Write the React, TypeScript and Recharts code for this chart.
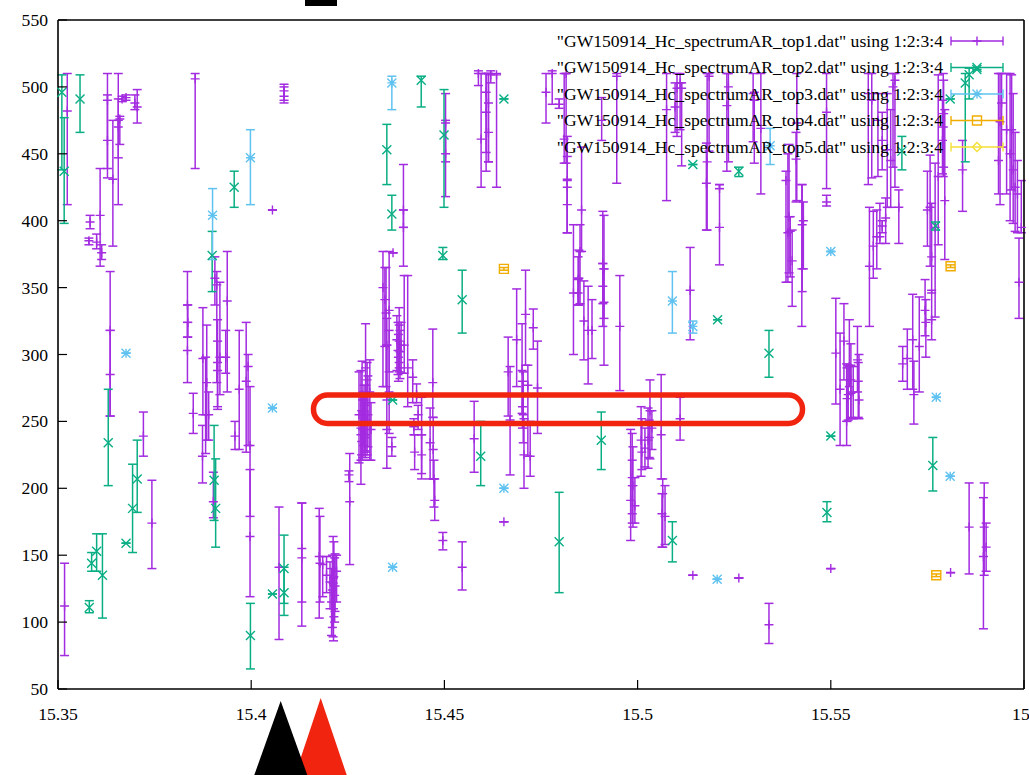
import { ScatterChart, Scatter, XAxis, YAxis, ErrorBar } from 'recharts'

// rows are [frequency, value, low, high]
const top1 = [
  [15.3517, 112, 75, 144], [15.3524, 482, 412, 510], [15.3583, 399, 394, 404], [15.358, 385, 382, 387],
  [15.36, 384, 379, 390], [15.3609, 404, 366, 439], [15.3613, 376, 371, 382], [15.3628, 490, 432, 510],
  [15.3628, 460, 439, 494], [15.3642, 431, 381, 475], [15.3656, 475, 412, 510], [15.3656, 470, 447, 491],
  [15.366, 476, 457, 478], [15.3676, 492, 490, 494], [15.3666, 491, 489, 493], [15.3699, 488, 483, 494],
  [15.3705, 485, 473, 498], [15.3635, 318, 254, 362], [15.3635, 285, 254, 318], [15.3721, 239, 224, 257],
  [15.3743, 174, 140, 206], [15.3835, 337, 313, 362], [15.3836, 324, 313, 337], [15.3835, 303, 279, 324],
  [15.385, 256, 241, 271], [15.3855, 506, 439, 510], [15.3874, 224, 204, 247], [15.3882, 255, 226, 298],
  [15.3875, 297, 255, 335], [15.3885, 279, 236, 322], [15.389, 255, 236, 272], [15.3906, 357, 337, 373],
  [15.3911, 352, 279, 362], [15.3902, 190, 178, 212], [15.3913, 294, 261, 326], [15.3913, 288, 259, 310],
  [15.3919, 298, 270, 354], [15.3934, 298, 286, 318], [15.3938, 340, 272, 377], [15.3958, 239, 229, 250],
  [15.3969, 274, 229, 318], [15.3987, 280, 227, 324], [15.3992, 291, 232, 300], [15.3997, 232, 179, 276],
  [15.3997, 164, 119, 214], [15.4055, 408, 408, 408], [15.4072, 141, 87, 186], [15.4085, 493, 488, 502],
  [15.4085, 497, 490, 500], [15.4131, 155, 97, 189], [15.4131, 148, 115, 189], [15.4176, 149, 103, 185],
  [15.4178, 144, 115, 179], [15.4185, 143, 119, 149], [15.4195, 135, 122, 149], [15.4204, 130, 110, 145],
  [15.4212, 129, 89, 164], [15.4214, 134, 104, 160], [15.421, 124, 96, 150], [15.4217, 127, 108, 151],
  [15.4221, 138, 115, 150], [15.4208, 115, 90, 140], [15.4213, 110, 86, 133], [15.4216, 120, 100, 148],
  [15.4255, 190, 143, 226], [15.4253, 210, 205, 213],
  [15.4284, 245, 203, 288], [15.4279, 255, 219, 287], [15.4287, 270, 221, 295], [15.4292, 266, 225, 277],
  [15.4297, 251, 227, 277], [15.4284, 240, 221, 270], [15.4289, 244, 223, 266], [15.4295, 247, 223, 264],
  [15.43, 281, 225, 294], [15.4307, 272, 221, 296], [15.431, 244, 221, 264], [15.4291, 258, 232, 272],
  [15.4286, 235, 225, 258], [15.4294, 238, 228, 262], [15.4302, 255, 231, 284], [15.4296, 290, 240, 323],
  [15.4341, 350, 276, 377], [15.4346, 341, 306, 365], [15.4349, 331, 276, 365], [15.4351, 307, 266, 327],
  [15.4351, 244, 215, 307], [15.4357, 333, 287, 377], [15.4357, 272, 241, 318], [15.4367, 376, 376, 376],
  [15.4364, 231, 224, 238], [15.4377, 311, 288, 329], [15.438, 303, 285, 324], [15.4383, 294, 287, 322],
  [15.4385, 302, 282, 318], [15.4388, 307, 286, 324], [15.4381, 298, 280, 315], [15.4383, 310, 290, 335],
  [15.4394, 408, 395, 442], [15.4394, 395, 366, 408], [15.4396, 307, 286, 359], [15.4405, 290, 261, 359],
  [15.4418, 283, 264, 296], [15.4428, 270, 264, 278], [15.4432, 255, 244, 262], [15.4421, 246, 240, 252],
  [15.4423, 227, 214, 240], [15.4441, 240, 211, 268], [15.4441, 225, 207, 240], [15.4463, 234, 207, 260],
  [15.447, 279, 253, 319], [15.4471, 229, 207, 253], [15.4473, 207, 186, 221], [15.4475, 191, 176, 207],
  [15.4496, 161, 154, 167], [15.4546, 141, 124, 160], [15.4577, 237, 212, 265], [15.4503, 450, 418, 475],
  [15.4503, 473, 444, 495], [15.4588, 510, 501, 512], [15.4595, 461, 425, 510], [15.4608, 496, 437, 510],
  [15.4608, 481, 451, 510], [15.4614, 488, 444, 510], [15.4614, 466, 444, 510], [15.462, 509, 503, 512],
  [15.4635, 509, 425, 510], [15.4654, 175, 175, 175], [15.4665, 287, 254, 313], [15.467, 251, 210, 291],
  [15.4687, 311, 276, 349], [15.4701, 288, 256, 323], [15.4704, 255, 234, 287], [15.4706, 225, 200, 252],
  [15.4702, 261, 245, 280], [15.471, 330, 292, 363], [15.4716, 277, 224, 292], [15.4722, 224, 209, 250],
  [15.473, 320, 304, 334], [15.4741, 275, 241, 310], [15.4763, 496, 473, 510], [15.4779, 510, 487, 512],
  [15.4797, 487, 484, 491], [15.481, 461, 443, 510], [15.4815, 510, 443, 510], [15.4818, 425, 391, 448],
  [15.4818, 412, 391, 431], [15.4818, 430, 391, 463], [15.4834, 346, 300, 397], [15.4846, 356, 337, 373],
  [15.4851, 377, 338, 397], [15.4848, 357, 337, 378], [15.4846, 346, 337, 357], [15.4855, 408, 377, 455],
  [15.4861, 325, 296, 355], [15.4872, 318, 278, 351], [15.4882, 318, 297, 341], [15.4907, 475, 460, 492],
  [15.491, 368, 338, 407], [15.4913, 364, 327, 404], [15.491, 351, 321, 368], [15.4913, 339, 292, 364],
  [15.4946, 508, 428, 510], [15.4954, 321, 273, 359], [15.4982, 191, 161, 244], [15.4986, 202, 174, 241],
  [15.4988, 202, 171, 231], [15.4986, 208, 181, 221], [15.4993, 187, 174, 208], [15.5009, 236, 209, 261],
  [15.5011, 227, 214, 252], [15.5019, 230, 216, 245], [15.5027, 236, 215, 260], [15.5032, 258, 222, 281],
  [15.5037, 245, 229, 258], [15.503, 238, 223, 251], [15.5061, 240, 207, 285], [15.5065, 196, 156, 207],
  [15.5071, 179, 158, 202], [15.5063, 181, 156, 196], [15.5075, 483, 415, 510], [15.5097, 485, 466, 503],
  [15.5102, 499, 463, 510], [15.511, 503, 468, 510], [15.5114, 499, 441, 503], [15.511, 252, 236, 268],
  [15.5136, 348, 311, 380], [15.5143, 135, 135, 135], [15.518, 444, 393, 510], [15.5178, 428, 393, 458],
  [15.5185, 508, 452, 510], [15.5212, 395, 367, 427], [15.5212, 424, 424, 427], [15.5231, 486, 437, 510],
  [15.5235, 500, 444, 510], [15.5262, 133, 133, 133], [15.5299, 495, 459, 510], [15.5302, 490, 443, 496],
  [15.5319, 469, 420, 510], [15.534, 98, 84, 114], [15.5384, 430, 354, 437], [15.5389, 391, 354, 450],
  [15.5392, 403, 361, 457], [15.5395, 392, 358, 403], [15.54, 370, 336, 393], [15.541, 446, 414, 466],
  [15.5412, 473, 415, 510], [15.5425, 364, 321, 427], [15.5426, 397, 347, 427], [15.5429, 400, 364, 414],
  [15.5489, 481, 424, 510], [15.5489, 414, 411, 419], [15.55, 140, 140, 140],
  [15.5513, 301, 263, 342], [15.5524, 274, 232, 316], [15.5534, 310, 281, 338], [15.5541, 250, 232, 293],
  [15.5548, 291, 276, 326], [15.5552, 281, 252, 308], [15.5569, 296, 272, 321], [15.5573, 266, 252, 300],
  [15.5571, 280, 253, 294], [15.5542, 267, 250, 290], [15.5545, 270, 251, 292], [15.5552, 271, 253, 292],
  [15.5558, 272, 252, 291], [15.5597, 495, 427, 510], [15.5606, 490, 432, 510], [15.56, 366, 321, 410],
  [15.561, 381, 357, 407], [15.5619, 388, 364, 408], [15.5627, 388, 383, 413], [15.5633, 396, 391, 400],
  [15.5642, 402, 383, 417], [15.5633, 460, 438, 481], [15.5646, 453, 410, 495], [15.5622, 475, 433, 495],
  [15.5655, 445, 410, 483], [15.5661, 500, 440, 510], [15.5666, 505, 425, 510], [15.5676, 410, 383, 423],
  [15.5686, 293, 280, 306], [15.5698, 297, 274, 319], [15.5712, 311, 274, 345], [15.5715, 270, 248, 295],
  [15.5729, 306, 272, 343], [15.5744, 333, 314, 356], [15.5746, 324, 298, 341], [15.5757, 410, 366, 449],
  [15.575, 408, 381, 437], [15.5761, 373, 346, 413], [15.5761, 326, 311, 348], [15.577, 395, 328, 443],
  [15.5778, 433, 382, 509], [15.5791, 470, 433, 510], [15.5795, 415, 371, 483], [15.5789, 460, 435, 490],
  [15.5792, 480, 440, 505], [15.581, 137, 137, 137], [15.5841, 438, 407, 460], [15.5858, 171, 136, 204],
  [15.5895, 149, 95, 193], [15.5902, 156, 138, 174], [15.5897, 171, 135, 204], [15.5934, 445, 420, 510],
  [15.5938, 474, 412, 510], [15.5942, 488, 455, 510], [15.5955, 468, 420, 510], [15.5964, 450, 400, 510],
  [15.5968, 468, 423, 509], [15.5972, 438, 398, 495], [15.5977, 425, 392, 466], [15.5983, 420, 391, 445],
  [15.5987, 354, 327, 387], [15.5993, 395, 391, 430],
]

const top2 = [
  [15.351, 496, 438, 509], [15.3516, 437, 398, 477], [15.3557, 491, 466, 509], [15.3581, 111, 107, 116],
  [15.3587, 144, 138, 152], [15.36, 153, 138, 166], [15.3615, 135, 103, 166], [15.363, 234, 202, 274],
  [15.3676, 159, 159, 159], [15.3693, 185, 152, 218], [15.3705, 207, 182, 236], [15.3956, 425, 410, 437],
  [15.3899, 374, 347, 392], [15.3904, 206, 176, 247], [15.3908, 185, 156, 222], [15.3998, 90, 65, 114],
  [15.4055, 121, 121, 121], [15.4085, 140, 114, 165], [15.4085, 122, 105, 141], [15.4351, 453, 427, 472],
  [15.4364, 405, 393, 419], [15.4366, 266, 266, 266], [15.444, 505, 485, 508], [15.4499, 464, 410, 498],
  [15.4496, 374, 371, 380], [15.4546, 341, 316, 363], [15.4594, 224, 202, 250], [15.4654, 491, 491, 491],
  [15.4797, 160, 122, 197], [15.4906, 236, 214, 257], [15.509, 161, 145, 175], [15.5143, 442, 442, 442],
  [15.5207, 326, 326, 326], [15.5262, 437, 433, 440], [15.534, 301, 283, 318], [15.549, 182, 175, 190],
  [15.55, 239, 239, 239], [15.5684, 452, 438, 463], [15.5764, 217, 198, 238], [15.5771, 396, 393, 399],
  [15.5809, 491, 491, 491], [15.5848, 503, 444, 510], [15.5858, 509, 491, 514], [15.5878, 513, 513, 513],
]

const top3 = [
  [15.3676, 301, 301, 301], [15.39, 404, 371, 424], [15.3998, 447, 412, 468], [15.4055, 260, 260, 260],
  [15.4366, 141, 141, 141], [15.4364, 503, 483, 508], [15.4654, 200, 200, 200], [15.509, 340, 316, 362],
  [15.5143, 321, 316, 325], [15.5206, 132, 132, 132], [15.5343, 456, 442, 469], [15.55, 377, 377, 377],
  [15.5773, 268, 268, 268], [15.5809, 209, 209, 209],
]

const top4 = [[15.4654, 364, 363, 365], [15.581, 366, 365, 367], [15.5773, 135, 134, 136]]

const top5: number[][] = []

const xTicks = [15.35, 15.4, 15.45, 15.5, 15.55, 15.6]
const yTicks = [50, 100, 150, 200, 250, 300, 350, 400, 450, 500, 550]

const toPoints = (rows: number[][]) =>
  rows.map(([x, y, lo, hi]) => ({ x, y, err: [y - lo, hi - y] }))

const FONT = '"Liberation Serif", serif'
const FONT_SIZE = 17.6
const PLOT = { left: 58, right: 1024, top: 20, bottom: 689 }
const TICK_LEN = 9

const COLORS = { top1: '#a32be0', top2: '#0aae84', top3: '#60c2f0', top4: '#f0ad00', top5: '#f3e035' }

function Marker({ kind, cx, cy, color }: { kind: string; cx: number; cy: number; color: string }) {
  const r = 4.5
  let d = ''
  if (kind === 'plus') d = `M${cx - r} ${cy}H${cx + r}M${cx} ${cy - r}V${cy + r}`
  if (kind === 'cross') d = `M${cx - r} ${cy - r}L${cx + r} ${cy + r}M${cx - r} ${cy + r}L${cx + r} ${cy - r}`
  if (kind === 'star')
    d = `M${cx - r} ${cy}H${cx + r}M${cx} ${cy - r}V${cy + r}M${cx - r} ${cy - r}L${cx + r} ${cy + r}M${cx - r} ${cy + r}L${cx + r} ${cy - r}`
  if (kind === 'square') d = `M${cx - r} ${cy - r}H${cx + r}V${cy + r}H${cx - r}Z`
  if (kind === 'diamond') d = `M${cx - r} ${cy}L${cx} ${cy - r}L${cx + r} ${cy}L${cx} ${cy + r}Z`
  return <path d={d} fill="none" stroke={color} strokeWidth={1.4} />
}

const shapeFor = (kind: string, color: string) => (props: any) =>
  <Marker kind={kind} cx={props.cx} cy={props.cy} color={color} />

function BottomTick({ x, payload }: any) {
  // the last label sits a little right of its tick and runs off the page, as in the original
  const dx = payload.value === 15.6 ? 3.5 : 0
  return (
    <g>
      <line x1={x} x2={x} y1={PLOT.bottom} y2={PLOT.bottom - TICK_LEN} stroke="#000" strokeWidth={1.2} />
      <text x={x + dx} y={720} textAnchor="middle" fontFamily={FONT} fontSize={FONT_SIZE} fill="#000">
        {String(payload.value)}
      </text>
    </g>
  )
}

function TopTick({ x }: any) {
  return <line x1={x} x2={x} y1={PLOT.top} y2={PLOT.top + TICK_LEN} stroke="#000" strokeWidth={1.2} />
}

function LeftTick({ y, payload }: any) {
  return (
    <g>
      <line x1={PLOT.left} x2={PLOT.left + TICK_LEN} y1={y} y2={y} stroke="#000" strokeWidth={1.2} />
      <text x={48} y={y + 6} textAnchor="end" fontFamily={FONT} fontSize={FONT_SIZE} fill="#000">
        {String(payload.value)}
      </text>
    </g>
  )
}

function RightTick({ y }: any) {
  return <line x1={PLOT.right} x2={PLOT.right - TICK_LEN} y1={y} y2={y} stroke="#000" strokeWidth={1.2} />
}

const legendRows = [
  { name: 'top1', kind: 'plus', color: COLORS.top1 },
  { name: 'top2', kind: 'cross', color: COLORS.top2 },
  { name: 'top3', kind: 'star', color: COLORS.top3 },
  { name: 'top4', kind: 'square', color: COLORS.top4 },
  { name: 'top5', kind: 'diamond', color: COLORS.top5 },
]

function Annotations() {
  return (
    <svg width={1029} height={775} style={{ position: 'absolute', left: 0, top: 0, pointerEvents: 'none' }}>
      {legendRows.map((row, i) => {
        const y = 41 + i * 26.5
        return (
          <g key={row.name}>
            <text x={943} y={y + 5.5} textAnchor="end" fontFamily={FONT} fontSize={FONT_SIZE} fill="#000">
              {`"GW150914_Hc_spectrumAR_${row.name}.dat" using 1:2:3:4`}
            </text>
            <path
              d={`M951 ${y}H1003M951 ${y - 4.5}V${y + 4.5}M1003 ${y - 4.5}V${y + 4.5}`}
              fill="none"
              stroke={row.color}
              strokeWidth={1.4}
            />
            <Marker kind={row.kind} cx={977} cy={y} color={row.color} />
          </g>
        )
      })}
      <rect x={313.5} y={395} width={489} height={28.5} rx={14} fill="none" stroke="#f0240f" strokeWidth={5.5} />
      <rect x={305} y={0} width={32} height={6} fill="#000" />
      <polygon points="320.7,698 295,775 346.7,775" fill="#f0240f" />
      <polygon points="280.7,701 254.3,775 307.3,775" fill="#000" />
    </svg>
  )
}

export default function App() {
  return (
    <div style={{ position: 'absolute', left: 0, top: 0, width: 1029, height: 775, overflow: 'hidden', background: '#fff' }}>
      <ScatterChart width={1029} height={775} margin={{ top: 0, right: 0, bottom: 0, left: 0 }}>
        <XAxis
          type="number"
          dataKey="x"
          domain={[15.35, 15.6]}
          ticks={xTicks}
          interval={0}
          height={86}
          tickLine={false}
          tick={<BottomTick />}
          axisLine={{ stroke: '#000', strokeWidth: 1.6 }}
        />
        <XAxis
          xAxisId="top"
          orientation="top"
          type="number"
          dataKey="x"
          domain={[15.35, 15.6]}
          ticks={xTicks}
          interval={0}
          height={20}
          tickLine={false}
          tick={<TopTick />}
          axisLine={{ stroke: '#000', strokeWidth: 1.6 }}
        />
        <YAxis
          type="number"
          dataKey="y"
          domain={[50, 550]}
          ticks={yTicks}
          interval={0}
          width={58}
          tickLine={false}
          tick={<LeftTick />}
          axisLine={{ stroke: '#000', strokeWidth: 1.6 }}
        />
        <YAxis
          yAxisId="right"
          orientation="right"
          type="number"
          dataKey="y"
          domain={[50, 550]}
          ticks={yTicks}
          interval={0}
          width={5}
          tickLine={false}
          tick={<RightTick />}
          axisLine={{ stroke: '#000', strokeWidth: 1.6 }}
        />
        <Scatter data={toPoints(top1)} isAnimationActive={false} shape={shapeFor('plus', COLORS.top1)}>
          <ErrorBar dataKey="err" direction="y" width={4.5} stroke={COLORS.top1} strokeWidth={1.5} isAnimationActive={false} />
        </Scatter>
        <Scatter data={toPoints(top2)} isAnimationActive={false} shape={shapeFor('cross', COLORS.top2)}>
          <ErrorBar dataKey="err" direction="y" width={4.5} stroke={COLORS.top2} strokeWidth={1.5} isAnimationActive={false} />
        </Scatter>
        <Scatter data={toPoints(top3)} isAnimationActive={false} shape={shapeFor('star', COLORS.top3)}>
          <ErrorBar dataKey="err" direction="y" width={4.5} stroke={COLORS.top3} strokeWidth={1.5} isAnimationActive={false} />
        </Scatter>
        <Scatter data={toPoints(top4)} isAnimationActive={false} shape={shapeFor('square', COLORS.top4)}>
          <ErrorBar dataKey="err" direction="y" width={4.5} stroke={COLORS.top4} strokeWidth={1.5} isAnimationActive={false} />
        </Scatter>
        <Scatter data={toPoints(top5)} isAnimationActive={false} shape={shapeFor('diamond', COLORS.top5)}>
          <ErrorBar dataKey="err" direction="y" width={4.5} stroke={COLORS.top5} strokeWidth={1.5} isAnimationActive={false} />
        </Scatter>
      </ScatterChart>
      <Annotations />
    </div>
  )
}
